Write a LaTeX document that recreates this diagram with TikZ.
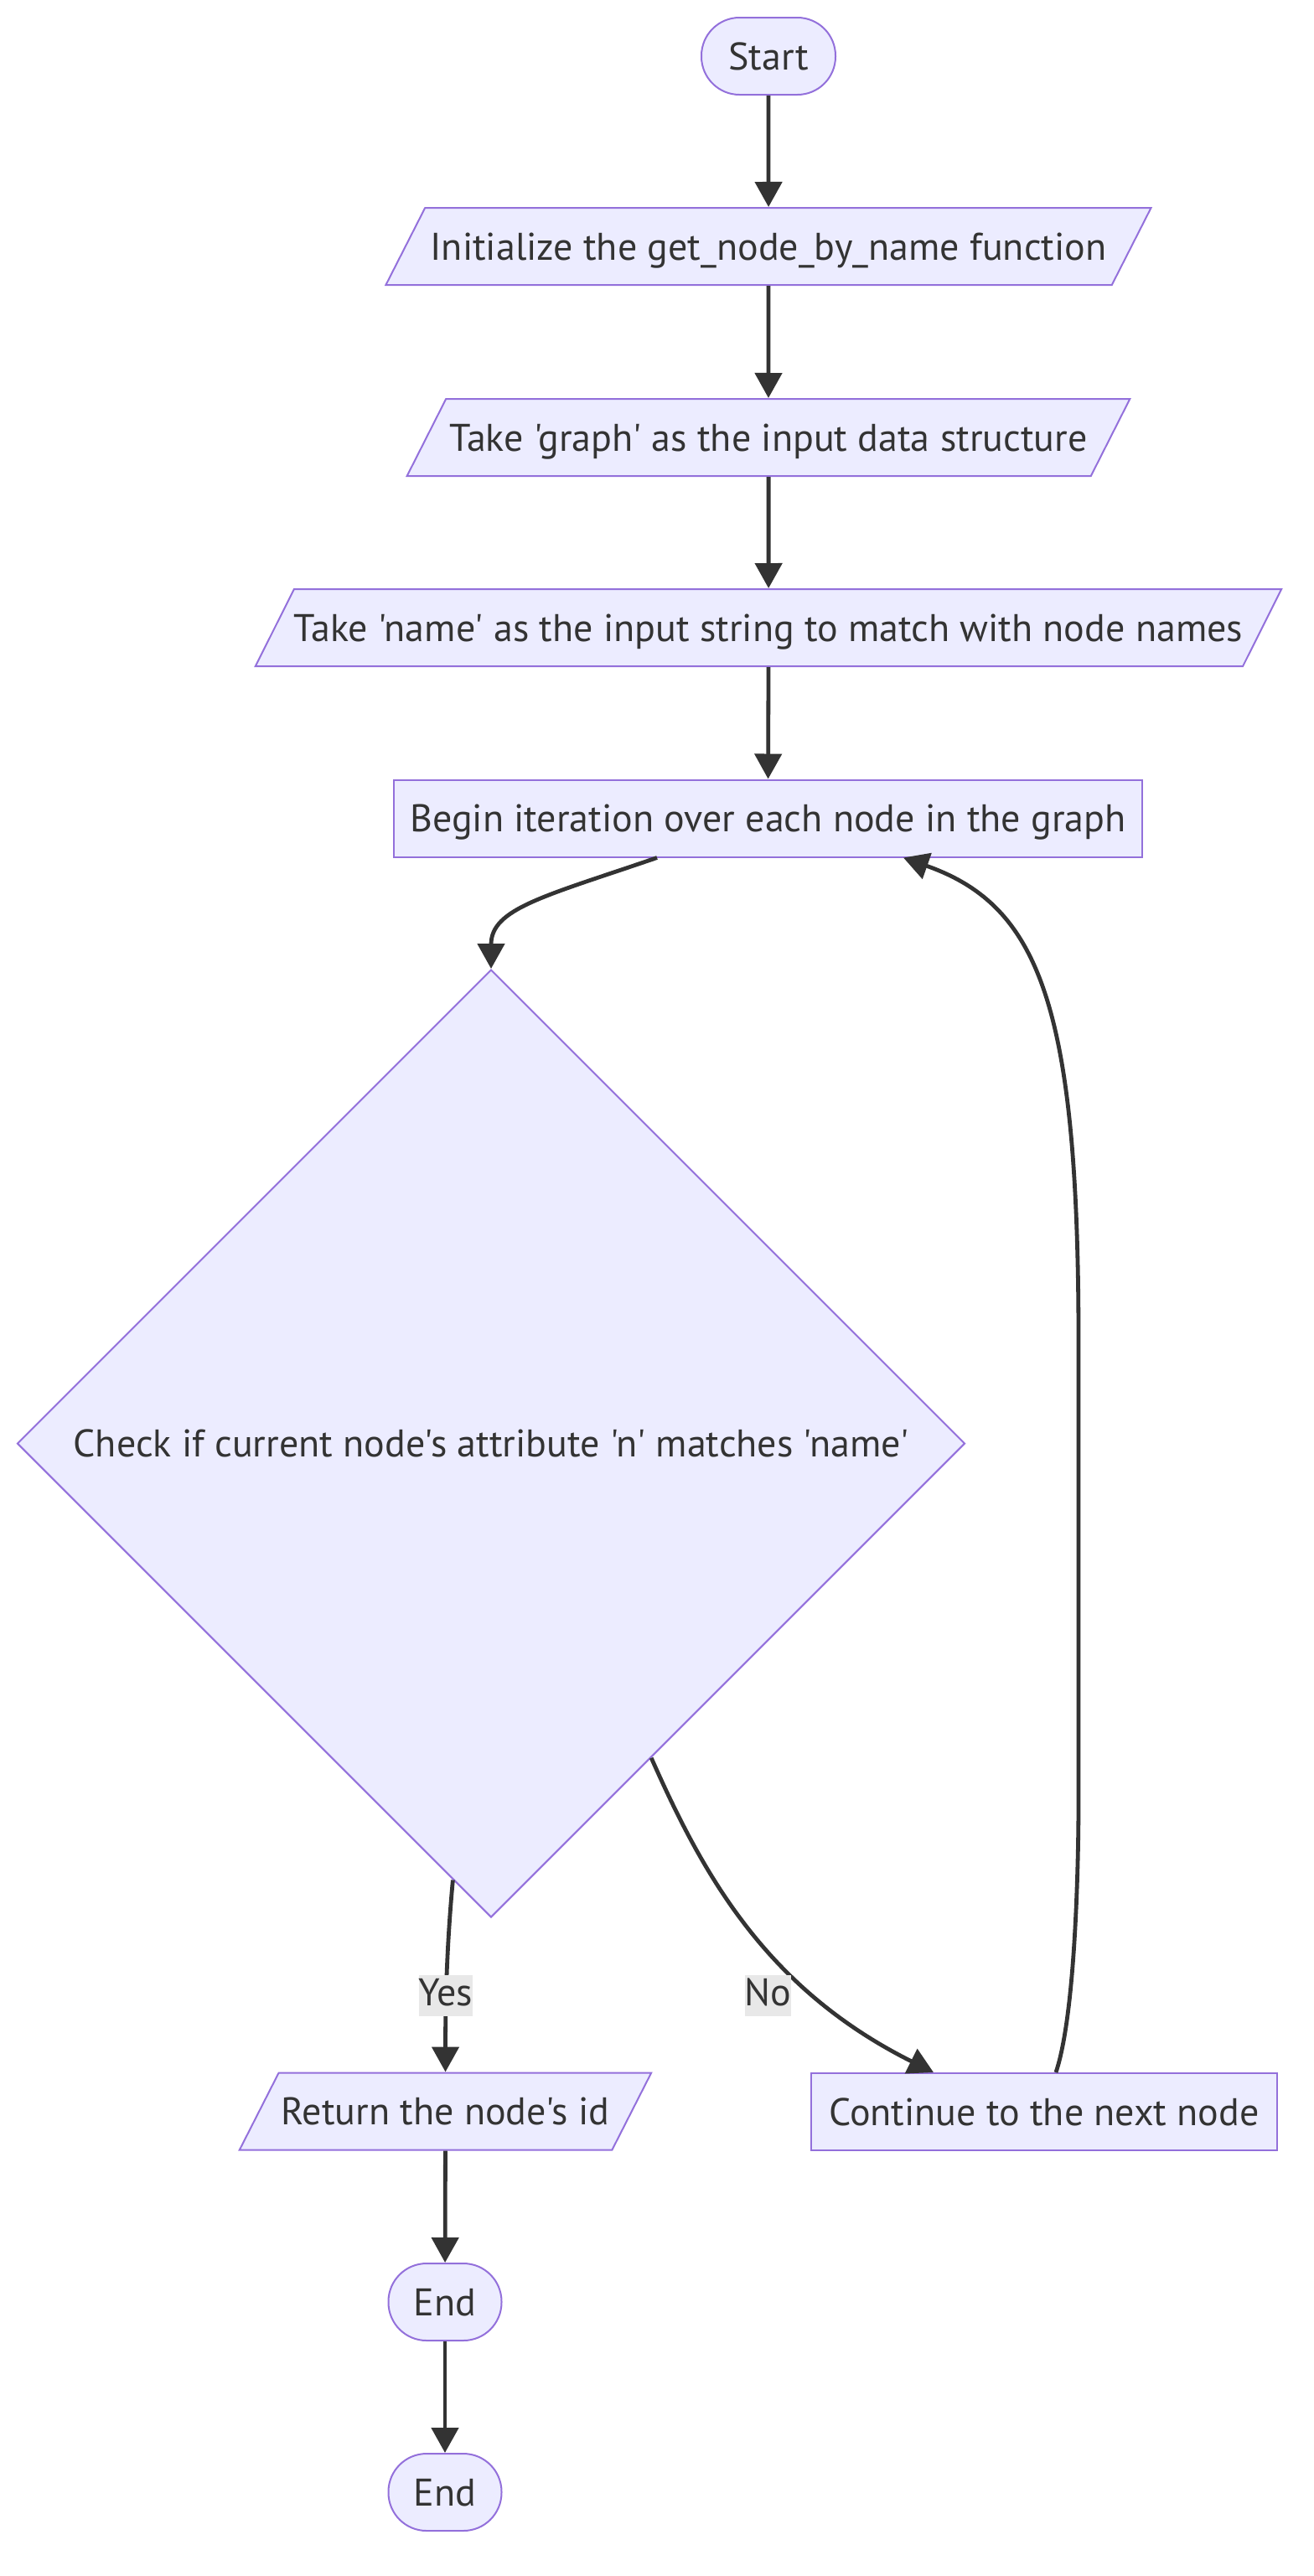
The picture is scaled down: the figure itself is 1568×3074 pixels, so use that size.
\documentclass[tikz,border=0pt]{standalone}
\usepackage{fontspec}
\setmainfont{PT Sans}[Ligatures=TeXOff]
\usetikzlibrary{shapes.geometric,arrows.meta}
\definecolor{nodefill}{HTML}{ECECFF}
\definecolor{nodeline}{HTML}{9370DB}
\definecolor{ink}{HTML}{333333}
\definecolor{labelbg}{HTML}{E8E8E8}

\begin{document}
\begin{tikzpicture}[x=0.5pt,y=-0.5pt,>={Triangle[length=15pt,width=16pt]},
  every node/.style={text=ink,font=\fontsize{23}{27}\selectfont},
  base/.style={draw=nodeline,fill=nodefill,line width=1pt,inner xsep=0pt,inner ysep=15pt,
    text height=16pt,text depth=0pt},
  term/.style={base,rectangle,rounded corners=22.75pt,minimum height=45.5pt},
  io/.style={base,trapezium,trapezium left angle=63.4,trapezium right angle=116.6,
    trapezium stretches=true},
  proc/.style={base,rectangle,minimum height=46pt},
  check/.style={base,diamond,aspect=1,minimum width=565.5pt,minimum height=565.5pt},
  lbl/.style={fill=labelbg,inner xsep=0pt,inner ysep=2pt,text height=16pt,text depth=4.5pt},
  flow/.style={draw=ink,line width=2.4pt,->}]
\useasboundingbox (0,0) rectangle (1568,3074);

% nodes
\node[term,minimum width=80pt] (start) at (917,67) {Start};
\node[io,minimum width=459pt] (init) at (917,294) {Initialize the get\_node\_by\_name function};
\node[io,minimum width=433pt] (graph) at (917,522) {Take 'graph' as the input data structure};
\node[io,minimum width=612pt] (name) at (917,749) {Take 'name' as the input string to match with node names};
\node[proc,minimum width=446.5pt] (begin) at (916.5,976.5) {Begin iteration over each node in the graph};
\node[check] (check) at (586,1722.5) {Check if current node's attribute 'n' matches 'name'};
\node[io,minimum width=246.5pt] (ret) at (531.5,2519.5) {Return the node's id};
\node[proc,minimum width=278pt] (cont) at (1246,2520) {Continue to the next node};
\node[term,minimum width=67.5pt] (end1) at (531,2747) {End};
\node[term,minimum width=67.5pt] (end2) at (531,2974) {End};

% bends of the loop back
\coordinate (loopb) at (1287,2150);
\coordinate (loopt) at (1287,1600);

% connectors
\draw[flow] (start) -- (init);
\draw[flow] (init) -- (graph);
\draw[flow] (graph) -- (name);
\draw[flow] (name) -- (begin);
\draw[flow] ([xshift=-66.25pt]begin.south) .. controls +(-134,46) and +(0,-72) .. (check.north);
\draw[flow] (check.265.5) .. controls +(-8,86) and +(0,-74) .. (ret.north);
\draw[flow] (check.297) .. controls +(62,140) and +(-200,-100) .. ([xshift=-66pt]cont.north);
\draw[flow] ([xshift=7pt]cont.north) .. controls +(25,-74) and +(0,50) .. (loopb)
  -- (loopt) .. controls +(0,-400) and +(162,57) .. ([xshift=80.75pt]begin.south);
\draw[flow] (ret) -- (end1);
\draw[flow] (end1) -- (end2);

% edge labels
\node[lbl] (yes) at (532,2381.5) {Yes};
\node[lbl] (no) at (916.5,2381.5) {No};
\end{tikzpicture}
\end{document}
